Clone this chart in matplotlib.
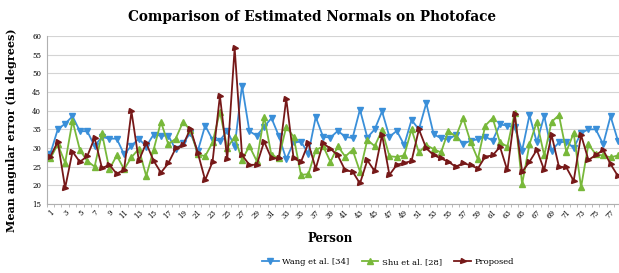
import numpy as np
from matplotlib import pyplot as plt

persons = np.arange(1, 79)

wang = [28.5, 35.0, 36.5, 38.5, 34.5, 34.5, 30.5, 33.0, 32.5, 32.5,
        28.3, 30.6, 32.5, 30.4, 33.6, 33.3, 33.3, 29.6, 31.3, 34.0,
        29.2, 36.0, 32.2, 32.0, 34.6, 30.4, 46.7, 34.5, 33.3, 35.7,
        38.0, 33.2, 27.0, 31.5, 31.7, 28.5, 38.3, 33.0, 32.8, 34.6,
        33.0, 32.7, 40.3, 32.8, 35.0, 39.8, 33.0, 34.6, 30.8, 37.5,
        35.0, 42.0, 33.7, 32.6, 32.3, 33.5, 31.0, 32.0, 32.3, 33.0,
        32.0, 36.3, 36.0, 35.5, 29.3, 38.8, 31.5, 38.6, 29.3, 31.5,
        31.7, 30.0, 34.0, 35.0, 35.0, 31.0, 38.5, 32.0]

shu = [27.2, 31.0, 26.0, 37.3, 29.5, 26.5, 25.0, 33.9, 24.3, 28.0,
       24.3, 27.5, 29.8, 22.5, 29.5, 37.0, 31.0, 32.5, 37.0, 34.8,
       28.3, 27.8, 31.5, 39.7, 30.0, 33.0, 26.8, 30.5, 26.5, 38.4,
       28.0, 27.4, 35.7, 33.0, 22.8, 23.0, 29.4, 30.5, 26.3, 30.5,
       27.7, 29.5, 23.7, 32.2, 30.5, 34.8, 27.8, 27.6, 28.0, 35.0,
       28.8, 30.8, 29.7, 28.8, 34.6, 33.0, 38.0, 31.7, 27.0, 36.0,
       38.0, 31.5, 30.4, 39.5, 20.3, 31.0, 37.0, 28.0, 37.0, 38.8,
       29.0, 34.0, 19.5, 31.0, 28.3, 28.0, 27.5, 28.0]

proposed = [27.7, 31.7, 19.3, 29.0, 26.3, 27.8, 32.7, 24.6, 25.5, 23.1,
            24.2, 39.8, 26.6, 31.3, 26.6, 23.4, 25.9, 29.9, 30.8, 35.2,
            28.7, 21.4, 26.3, 44.0, 27.0, 56.8, 28.1, 25.5, 25.5, 31.7,
            27.2, 27.3, 43.2, 27.2, 26.3, 31.3, 24.5, 31.3, 29.8, 28.0,
            24.0, 23.7, 20.5, 26.7, 23.8, 33.5, 22.8, 25.5, 26.0, 26.5,
            35.0, 29.9, 28.1, 27.2, 26.3, 25.0, 25.9, 25.4, 24.5, 27.7,
            28.0, 30.3, 24.0, 39.0, 23.6, 26.3, 29.5, 24.1, 33.5, 25.0,
            24.8, 21.2, 33.5, 26.8, 28.1, 29.5, 25.7, 22.5]

plt.rcParams['font.family'] = ['DejaVu Serif']

W, H = 619, 273
fig = plt.figure(figsize=(W/100, H/100), dpi=100)
left, right, top, bottom = 46.7, 621.6, 36, 204
ax = fig.add_axes([left/W, 1-bottom/H, (right-left)/W, (bottom-top)/H])

ax.plot(persons, wang, color='#3a8fd9', marker='v', ms=4, lw=1.3, label='Wang et al. [34]')
ax.plot(persons, shu, color='#78b83a', marker='^', ms=4, lw=1.3, label='Shu et al. [28]')
ax.plot(persons, proposed, color='#761818', marker='>', ms=3.6, lw=1.3, label='Proposed')

ax.set_xlim(0.5, 78.5)
ax.set_ylim(15, 60)
ax.set_yticks(np.arange(15, 61, 5))
ax.set_xticks(persons[::2])
ax.set_xticks(np.arange(0.5, 79, 1), minor=True)
ax.set_xticklabels([str(p) for p in persons[::2]], rotation=45, ha='right',
                   rotation_mode='anchor', fontsize=5)
ax.tick_params(axis='y', labelsize=5, length=0, pad=4)
ax.tick_params(axis='x', which='major', length=0, pad=3)
ax.tick_params(axis='x', which='minor', length=2.5, color='#b0b0b0')
ax.yaxis.grid(True, color='#d4d4d4', lw=0.8)
ax.set_axisbelow(True)
for s in ['top', 'right']:
    ax.spines[s].set_visible(False)
for s in ['left', 'bottom']:
    ax.spines[s].set_color('#b0b0b0')

fig.text(0.504, 1-17/H, 'Comparison of Estimated Normals on Photoface',
         ha='center', va='center', fontsize=9.8, fontweight='bold')
fig.text(330/W, 1-238/H, 'Person', ha='center', va='center', fontsize=8.5, fontweight='bold')
fig.text(12/W, 1-130/H, 'Mean angular error (in degrees)', ha='center', va='center',
         rotation=90, fontsize=8, fontweight='bold')

fig.legend(loc='center', bbox_to_anchor=(388/W, 1-262/H), ncol=3, frameon=False,
           fontsize=6, handlelength=2, columnspacing=1.5, handletextpad=0.4)

plt.savefig('out.png', dpi=100)
